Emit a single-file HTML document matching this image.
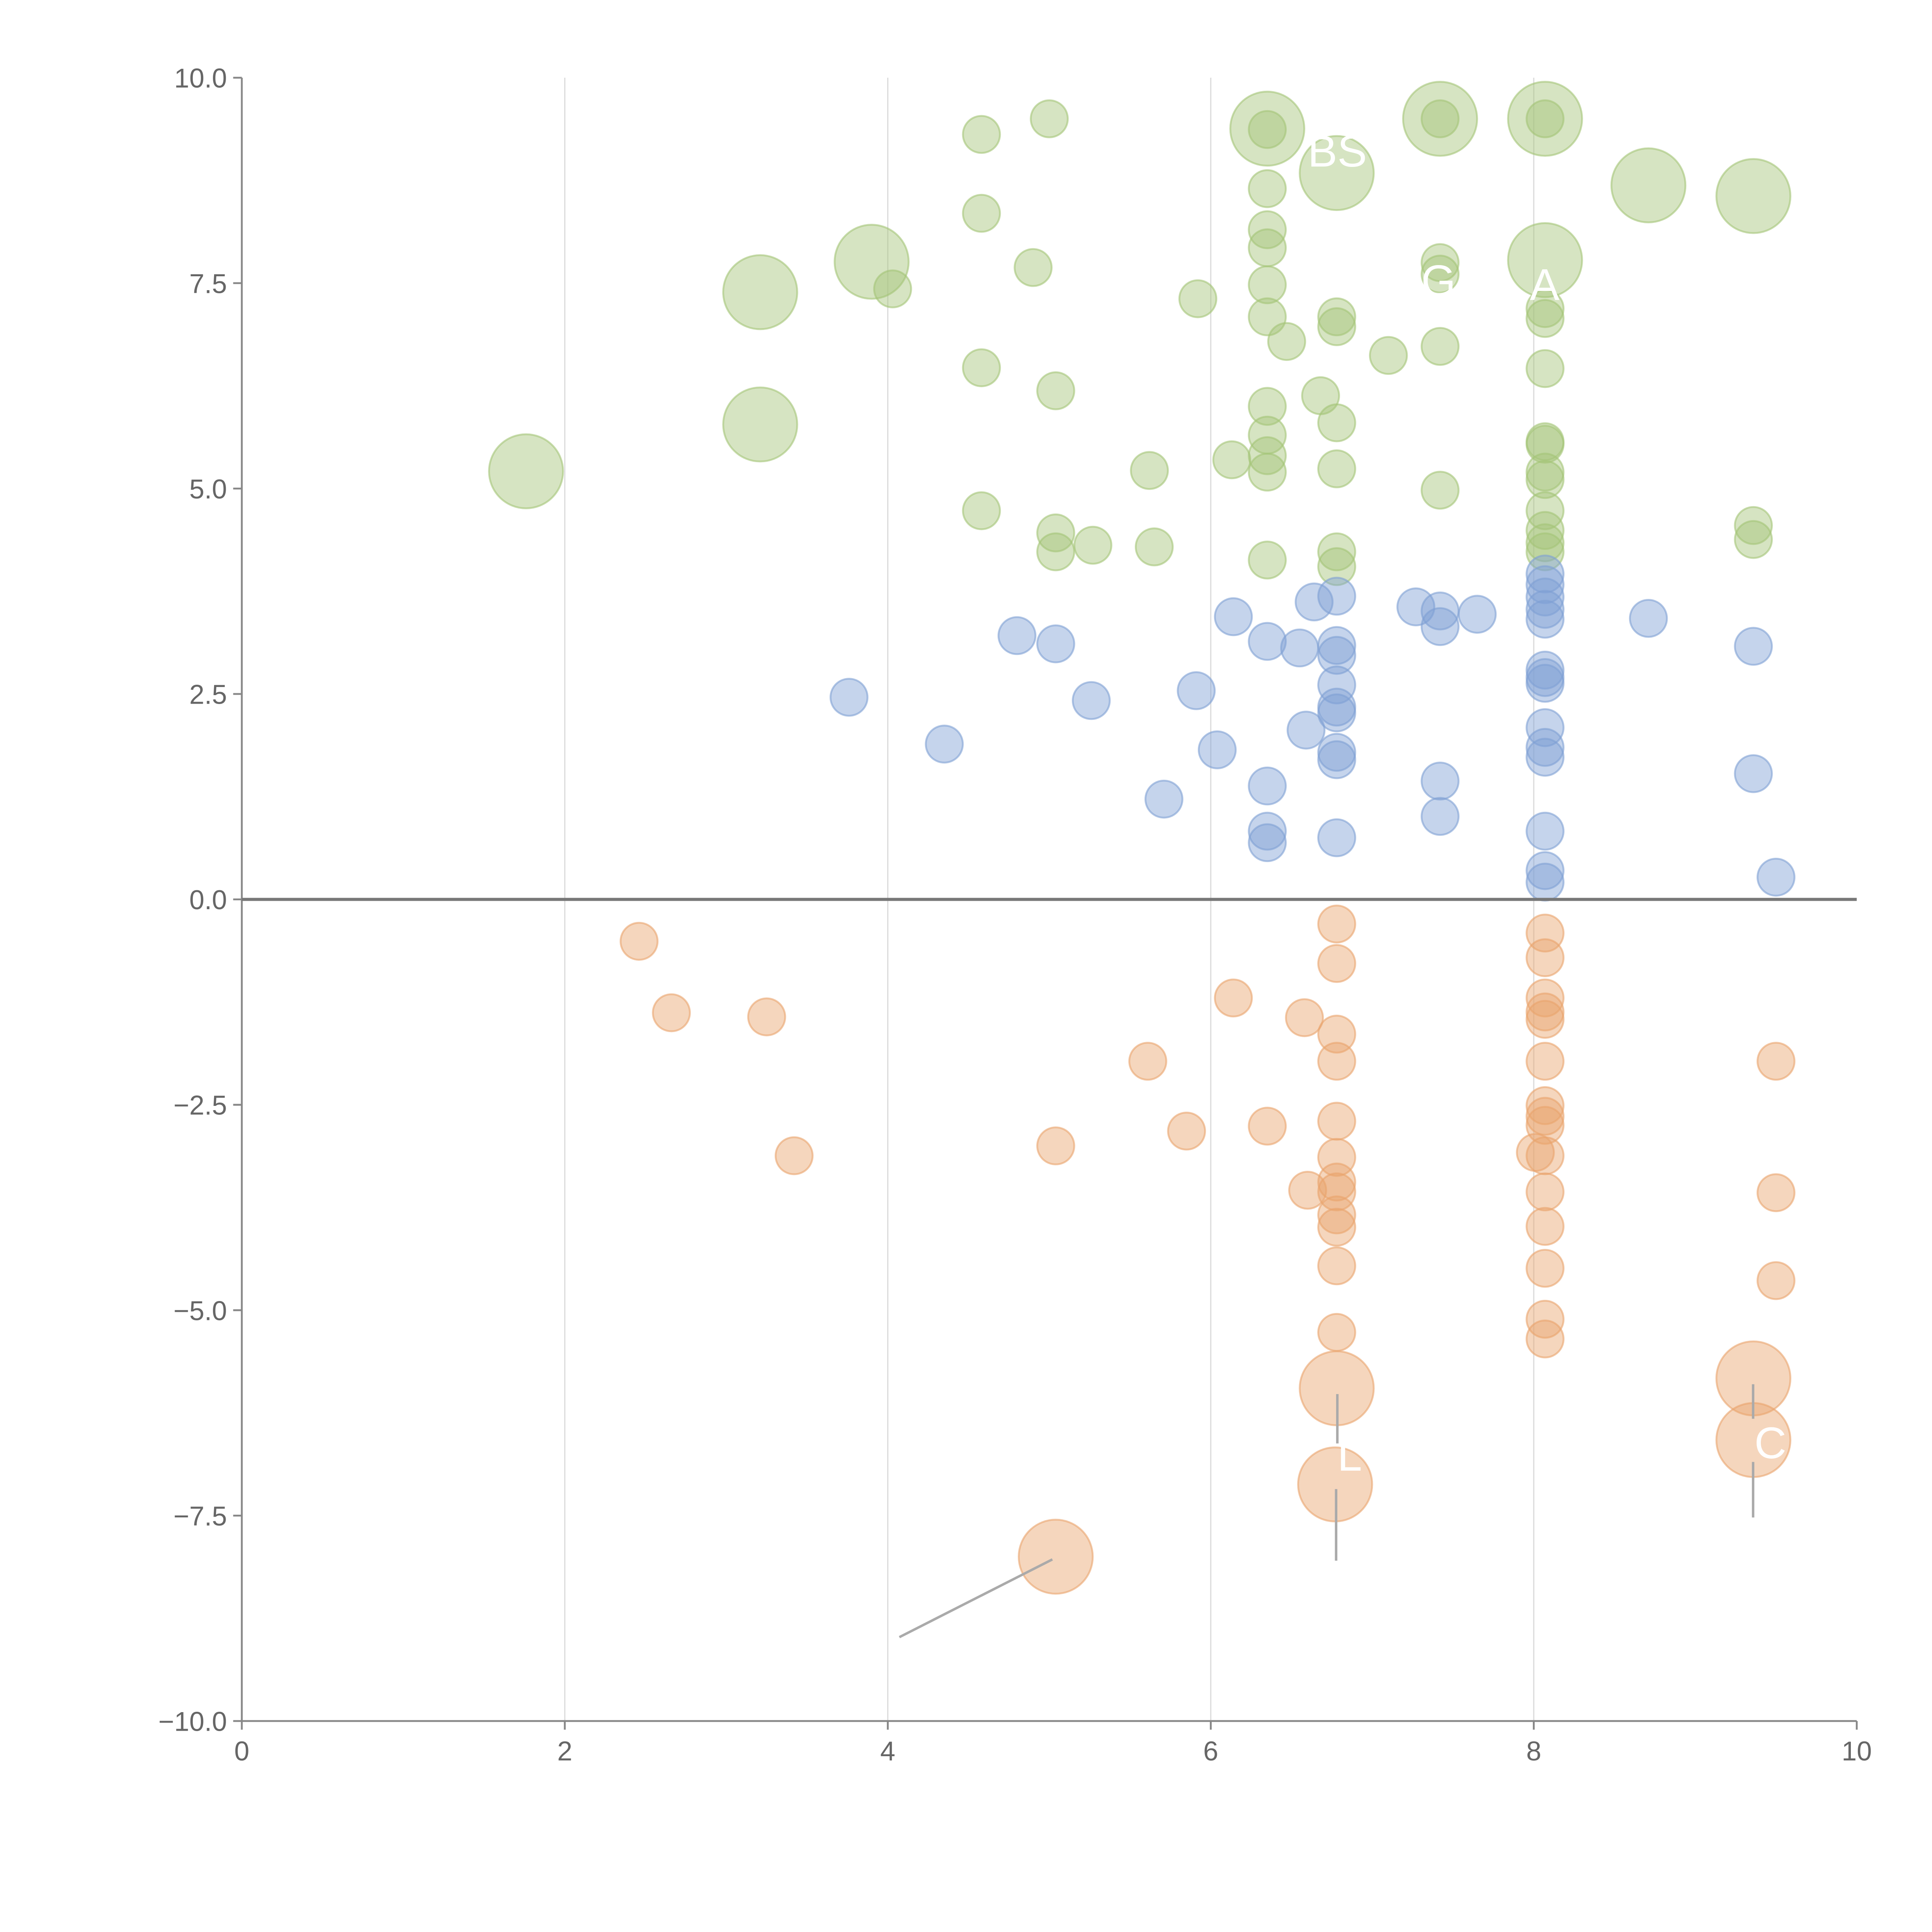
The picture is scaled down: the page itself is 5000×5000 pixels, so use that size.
<!DOCTYPE html>
<html><head><meta charset="utf-8"><style>
html,body{margin:0;padding:0;background:#fff;}
svg{display:block;}
text{font-family:"Liberation Sans",sans-serif;}
</style></head><body>
<svg id="chart" width="5000" height="5000" viewBox="0 0 1566 1566" xmlns="http://www.w3.org/2000/svg"></svg>
<script>
const xTicks=[0,2,4,6,8,10];
const yTicks=[-10,-7.5,-5,-2.5,0,2.5,5,7.5,10];
const yTickLabels=["\u221210.0","\u22127.5","\u22125.0","\u22122.5","0.0","2.5","5.0","7.5","10.0"];
const greenX=[4.58,5.0,4.58,4.9,4.03,4.58,5.04,5.92,5.62,6.13,4.58,5.04,5.04,5.27,5.65,6.35,6.35,6.35,6.35,6.35,6.35,6.35,6.35,6.35,6.35,6.35,6.47,6.68,6.78,6.78,6.78,6.78,6.78,6.78,7.1,7.42,7.42,7.42,7.42,7.42,8.07,8.07,8.07,8.07,8.07,8.07,8.07,8.07,8.07,8.07,8.07,8.07,9.36,9.36,1.76,3.21,3.21,3.9,6.35,6.78,7.42,8.07,8.07,8.71,9.36];
const greenY=[9.31,9.5,8.35,7.69,7.43,6.47,6.19,7.31,5.22,5.35,4.73,4.46,4.23,4.31,4.29,9.37,8.65,8.15,7.93,7.48,7.09,6.0,5.65,5.4,5.2,4.13,6.79,6.13,7.09,6.97,5.8,5.24,4.23,4.05,6.62,9.5,7.75,7.61,6.73,4.98,9.5,7.19,7.07,6.46,5.57,5.54,5.2,5.11,4.73,4.49,4.34,4.23,4.55,4.38,5.21,7.39,5.78,7.76,9.38,8.84,9.5,9.5,7.78,8.69,8.56];
const greenSize=[1,1,1,1,1,1,1,1,1,1,1,1,1,1,1,1,1,1,1,1,1,1,1,1,1,1,1,1,1,1,1,1,1,1,1,1,1,1,1,1,1,1,1,1,1,1,1,1,1,1,1,1,1,1,4,4,4,4,4,4,4,4,4,4,4];
const blueX=[3.76,4.35,4.8,5.04,5.26,5.71,5.91,6.04,6.14,6.35,6.35,6.35,6.35,6.55,6.59,6.64,6.78,6.78,6.78,6.78,6.78,6.78,6.78,6.78,6.78,7.27,7.42,7.42,7.42,7.42,7.65,8.07,8.07,8.07,8.07,8.07,8.07,8.07,8.07,8.07,8.07,8.07,8.07,8.07,8.07,8.71,9.36,9.36,9.5];
const blueY=[2.46,1.89,3.21,3.11,2.42,1.22,2.54,1.82,3.44,3.14,1.38,0.83,0.69,3.06,2.06,3.62,3.69,3.09,2.97,2.61,2.34,2.27,1.79,1.7,0.75,3.56,3.51,3.32,1.44,1.01,3.47,3.96,3.83,3.68,3.53,3.41,2.79,2.7,2.63,2.09,1.85,1.73,0.83,0.35,0.21,3.42,3.08,1.53,0.27];
const orangeX=[2.46,2.66,3.25,3.42,5.04,5.61,5.85,6.14,6.35,6.58,6.6,6.78,6.78,6.78,6.78,6.78,6.78,6.78,6.78,6.78,6.78,6.78,6.78,8.07,8.07,8.07,8.07,8.07,8.07,8.07,8.07,8.07,8.07,8.07,8.07,8.07,8.07,8.07,8.01,9.5,9.5,9.5,5.04,6.78,6.77,9.36,9.36];
const orangeY=[-0.51,-1.38,-1.43,-3.12,-3.0,-1.97,-2.82,-1.2,-2.76,-1.44,-3.54,-0.3,-0.78,-1.64,-1.97,-2.7,-3.14,-3.44,-3.56,-3.84,-3.99,-4.46,-5.27,-0.41,-0.71,-1.2,-1.37,-1.46,-1.97,-2.51,-2.64,-2.75,-3.12,-3.56,-3.98,-4.49,-5.11,-5.35,-3.08,-1.97,-3.57,-4.64,-8.0,-5.95,-7.12,-5.83,-6.58];
const orangeSize=[1,1,1,1,1,1,1,1,1,1,1,1,1,1,1,1,1,1,1,1,1,1,1,1,1,1,1,1,1,1,1,1,1,1,1,1,1,1,1,1,1,1,4,4,4,4,4];

const NS="http://www.w3.org/2000/svg";
const svg=document.getElementById('chart');
const X0=196,X1=1505,Y0=1395,Y1=63;
const sx=v=>X0+(v-0)/10*(X1-X0);
const sy=v=>Y0-(v+10)/20*(Y0-Y1);
function mk(tag,attrs,parent){const e=document.createElementNS(NS,tag);for(const k in attrs)e.setAttribute(k,attrs[k]);(parent||svg).appendChild(e);return e;}

const grid=mk('g',{});


xTicks.forEach(t=>{if(t>0&&t<10){const l=mk('line',{x1:sx(t),x2:sx(t),y1:Y1,y2:Y0,stroke:'#dcdcdc','stroke-width':1},grid);

}});

const ax=mk('g',{});


const yl=mk('line',{x1:X0,x2:X0,y1:Y1,y2:Y0,stroke:'#888','stroke-width':1.5},ax);


const xl=mk('line',{x1:X0,x2:X1,y1:Y0,y2:Y0,stroke:'#888','stroke-width':1.5},ax);


xTicks.forEach(t=>{mk('line',{x1:sx(t),x2:sx(t),y1:Y0,y2:Y0+7,stroke:'#888','stroke-width':1.5},ax);
const tx=mk('text',{x:sx(t),y:Y0+32,'text-anchor':'middle','font-size':22,fill:'#666'},ax);tx.textContent=t;

});
yTicks.forEach((t,i)=>{mk('line',{x1:X0-7,x2:X0,y1:sy(t),y2:sy(t),stroke:'#888','stroke-width':1.5},ax);
const tx=mk('text',{x:X0-12,y:sy(t)+8,'text-anchor':'end','font-size':22,fill:'#666'},ax);tx.textContent=yTickLabels[i];

});

function series(xs,ys,sz,color,name){
  const g=mk('g',{});
  
  
  xs.forEach((x,i)=>{const s=sz?sz[i]:1;
    const c=mk('circle',{cx:sx(x),cy:sy(ys[i]),r:15*Math.sqrt(s),fill:color,'fill-opacity':0.45,stroke:color,'stroke-opacity':0.6,'stroke-width':1.5},g);
    
    });
}
series(greenX,greenY,greenSize,'#a3c477','green-series');
series(blueX,blueY,null,'#7ea0d4','blue-series');
series(orangeX,orangeY,orangeSize,'#e9a46c','orange-series');

const zl=mk('line',{x1:X0,x2:X1,y1:sy(0),y2:sy(0),stroke:'#777','stroke-width':2.5});



const ann=mk('g',{});


[[853,1264,729,1327],[1084,1130,1084,1170],[1083,1207,1083,1265],[1421,1122,1421,1150],[1421,1185,1421,1230]].forEach(l=>{
const e=mk('line',{x1:l[0],y1:l[1],x2:l[2],y2:l[3],stroke:'#aaa','stroke-width':2},ann);

});
[["L",1084,1192],["C",1422,1182],["A",1240,243],["G",1152,240],["BS",1060,135]].forEach(t=>{
const e=mk('text',{x:t[1],y:t[2],'font-size':36,fill:'#fff'},ann);e.textContent=t[0];

});
</script>
</body></html>
